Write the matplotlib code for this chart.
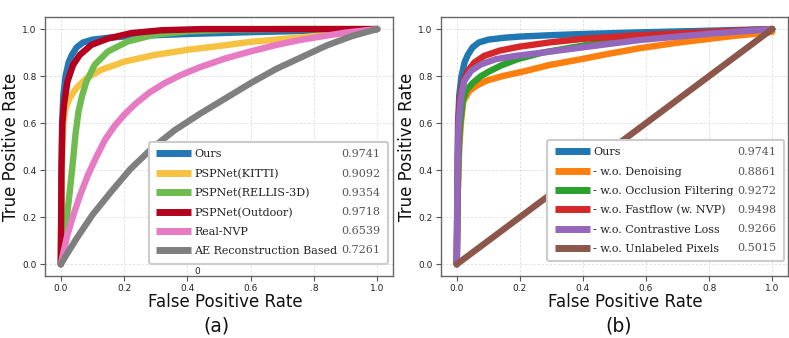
import matplotlib
matplotlib.use('Agg')
import matplotlib.pyplot as plt
from matplotlib.lines import Line2D
from matplotlib.ticker import FixedLocator, FixedFormatter

# ---------------- data: panel (a) ----------------
a_names = ['Ours', 'PSPNet(KITTI)', 'PSPNet(RELLIS-3D)', 'PSPNet(Outdoor)',
           'Real-NVP', 'AE Reconstruction Based']
a_aucs = ['0.9741', '0.9092', '0.9354', '0.9718', '0.6539', '0.7261']
a_colors = ['#2477b6', '#f5c242', '#6fbb50', '#b3001e', '#e67bc3', '#7f7f7f']

ours_fpr = [0, 0.002, 0.004, 0.008, 0.015, 0.025, 0.035, 0.05, 0.07, 0.1, 0.15, 0.2, 0.3, 0.4, 0.58, 0.8, 1.0]
ours_tpr = [0, 0.3, 0.6, 0.72, 0.8, 0.86, 0.89, 0.922, 0.943, 0.955, 0.963, 0.968, 0.974, 0.979, 0.986, 0.993, 1.0]

kitti_fpr = [0, 0.002, 0.005, 0.008, 0.015, 0.028, 0.049, 0.081, 0.128, 0.202, 0.297, 0.402, 0.507, 0.596, 0.754, 0.912, 1.0]
kitti_tpr = [0, 0.3, 0.5, 0.6, 0.664, 0.706, 0.749, 0.791, 0.827, 0.862, 0.89, 0.912, 0.929, 0.945, 0.964, 0.985, 1.0]

rellis_fpr = [0, 0.012, 0.025, 0.037, 0.047, 0.056, 0.068, 0.081, 0.107, 0.149, 0.213, 0.297, 0.402, 0.53, 0.7, 1.0]
rellis_tpr = [0, 0.12, 0.27, 0.42, 0.56, 0.65, 0.72, 0.777, 0.848, 0.905, 0.948, 0.976, 0.99, 0.997, 1.0, 1.0]

outdoor_fpr = [0, 0.002, 0.005, 0.01, 0.021, 0.039, 0.06, 0.097, 0.15, 0.223, 0.32, 0.45, 0.6, 1.0]
outdoor_tpr = [0, 0.4, 0.6, 0.68, 0.777, 0.848, 0.89, 0.933, 0.96, 0.983, 0.995, 1.0, 1.0, 1.0]

nvp_fpr = [0, 0.01, 0.02, 0.04, 0.06, 0.086, 0.11, 0.14, 0.171, 0.2, 0.234, 0.28, 0.328, 0.38, 0.44,
           0.52, 0.6, 0.68, 0.75, 0.83, 0.9, 1.0]
nvp_tpr = [0, 0.06, 0.12, 0.21, 0.29, 0.38, 0.45, 0.53, 0.59, 0.635, 0.68, 0.73, 0.77, 0.805, 0.838,
           0.875, 0.905, 0.932, 0.952, 0.97, 0.985, 1.0]

ae_fpr = [0, 0.02, 0.05, 0.1, 0.16, 0.22, 0.29, 0.36, 0.44, 0.52, 0.6, 0.68, 0.76, 0.84, 0.92, 1.0]
ae_tpr = [0, 0.045, 0.11, 0.21, 0.31, 0.405, 0.495, 0.57, 0.64, 0.705, 0.77, 0.83, 0.88, 0.93, 0.97, 1.0]

a_fprs = [ours_fpr, kitti_fpr, rellis_fpr, outdoor_fpr, nvp_fpr, ae_fpr]
a_tprs = [ours_tpr, kitti_tpr, rellis_tpr, outdoor_tpr, nvp_tpr, ae_tpr]

# ---------------- data: panel (b) ----------------
b_names = ['Ours', '- w.o. Denoising', '- w.o. Occlusion Filtering',
           '- w.o. Fastflow (w. NVP)', '- w.o. Contrastive Loss', '- w.o. Unlabeled Pixels']
b_aucs = ['0.9741', '0.8861', '0.9272', '0.9498', '0.9266', '0.5015']
b_colors = ['#1f77b4', '#ff7f0e', '#2ca02c', '#d62728', '#9467bd', '#8c564b']

den_fpr = [0, 0.003, 0.008, 0.013, 0.021, 0.04, 0.061, 0.093, 0.145, 0.219, 0.293, 0.387, 0.482, 0.577, 0.7, 0.86, 1.0]
den_tpr = [0, 0.3, 0.5, 0.6, 0.694, 0.737, 0.758, 0.78, 0.8, 0.822, 0.847, 0.87, 0.895, 0.918, 0.942, 0.968, 0.988]

occ_fpr = [0, 0.003, 0.007, 0.011, 0.019, 0.029, 0.05, 0.077, 0.103, 0.14, 0.193, 0.272, 0.366, 0.472, 0.577, 0.75, 1.0]
occ_tpr = [0, 0.3, 0.5, 0.6, 0.694, 0.737, 0.77, 0.8, 0.82, 0.845, 0.872, 0.9, 0.922, 0.945, 0.962, 0.982, 1.0]

ff_fpr = [0, 0.002, 0.005, 0.01, 0.021, 0.035, 0.056, 0.087, 0.135, 0.198, 0.293, 0.398, 0.577, 0.8, 1.0]
ff_tpr = [0, 0.35, 0.6, 0.708, 0.78, 0.822, 0.858, 0.886, 0.908, 0.925, 0.943, 0.958, 0.974, 0.988, 1.0]

con_fpr = [0, 0.002, 0.006, 0.013, 0.024, 0.045, 0.077, 0.124, 0.187, 0.272, 0.398, 0.577, 0.8, 1.0]
con_tpr = [0, 0.35, 0.6, 0.708, 0.78, 0.822, 0.85, 0.872, 0.886, 0.9, 0.922, 0.953, 0.98, 1.0]

unl_fpr = [0, 1.0]
unl_tpr = [0, 1.0]

b_fprs = [ours_fpr, den_fpr, occ_fpr, ff_fpr, con_fpr, unl_fpr]
b_tprs = [ours_tpr, den_tpr, occ_tpr, ff_tpr, con_tpr, unl_tpr]

ticks = [0.0, 0.2, 0.4, 0.6, 0.8, 1.0]
a_xticklabels = ['0.0', '0.2', '0.4', '0.6', '.8', '1.0']
b_xticklabels = ['0.0', '0.2', '0.4', '0.6', '0.8', '1.0']
yticklabels = ['0.0', '0.2', '0.4', '0.6', '0.8', '1.0']

# ---------------- figure ----------------
fig = plt.figure(figsize=(7.89, 3.38), dpi=100)
ax_a = fig.add_axes([45 / 789, 62 / 338, 348 / 789, 258.7 / 338])
ax_b = fig.add_axes([441 / 789, 62 / 338, 347 / 789, 258.7 / 338])

LW = 4.6
FS_LEG = 8


def style(ax, xlabels):
    ax.set_xlim(-0.05, 1.05)
    ax.set_ylim(-0.05, 1.05)
    ax.xaxis.set_major_locator(FixedLocator(ticks))
    ax.xaxis.set_major_formatter(FixedFormatter(xlabels))
    ax.yaxis.set_major_locator(FixedLocator(ticks))
    ax.yaxis.set_major_formatter(FixedFormatter(yticklabels))
    ax.tick_params(axis='both', labelsize=6.5, length=3.5, width=0.8,
                   color='#555555', labelcolor='#222222', pad=2.5)
    for s in ax.spines.values():
        s.set_color('#666666')
        s.set_linewidth(1.0)
    ax.grid(True, color='#dddddd', linestyle=(0, (3, 2)), linewidth=0.6)
    ax.set_axisbelow(True)
    ax.set_ylabel('True Positive Rate', fontsize=12, color='#111111')
    ax.yaxis.set_label_coords(-0.072, 0.5)


def legend(ax, names, aucs, colors, anchor):
    handles = [Line2D([], [], color=c, lw=5, solid_capstyle='butt') for c in colors]
    blanks = [Line2D([], [], color='none', lw=0) for _ in names]
    fs_px = FS_LEG * 100 / 72
    hl = 35 / fs_px
    htp = 3.3 / fs_px
    colsp = (4 - 35 - 3.3) / fs_px
    leg = ax.legend(handles + blanks, list(names) + list(aucs), ncol=2,
                    loc='lower right', bbox_to_anchor=anchor, borderaxespad=0,
                    prop={'family': 'DejaVu Serif', 'size': FS_LEG},
                    handlelength=hl, handletextpad=htp, columnspacing=colsp,
                    labelspacing=0.83, borderpad=0.65, fancybox=True, framealpha=1.0,
                    edgecolor='#cccccc')
    leg.get_frame().set_linewidth(1.5)
    texts = leg.get_texts()
    for t in texts[:len(names)]:
        t.set_color('#222222')
    for t in texts[len(names):]:
        t.set_color('#555555')
    leg.set_zorder(10)
    return leg


# panel (a)
for fx, ty, c in zip(a_fprs, a_tprs, a_colors):
    ax_a.plot(fx, ty, color=c, lw=LW, solid_capstyle='round', solid_joinstyle='round')
style(ax_a, a_xticklabels)
legend(ax_a, a_names, a_aucs, a_colors, (0.9856, 0.048))
ax_a.text(0.43, -0.031, '0', fontsize=6.5, color='#222222', ha='center', va='center', zorder=12)
ax_a.set_xlabel('False Positive Rate', fontsize=12, color='#111111')
ax_a.xaxis.set_label_coords(0.517, -0.064)
fig.text(216 / 789, 0.036, '(a)', fontsize=13.5, ha='center', va='center', color='#111111')

# panel (b)
for fx, ty, c in zip(b_fprs, b_tprs, b_colors):
    ax_b.plot(fx, ty, color=c, lw=LW, solid_capstyle='round', solid_joinstyle='round')
style(ax_b, b_xticklabels)
legend(ax_b, b_names, b_aucs, b_colors, (0.988, 0.058))
ax_b.set_xlabel('False Positive Rate', fontsize=12, color='#111111')
ax_b.xaxis.set_label_coords(0.53, -0.064)
fig.text(619 / 789, 0.036, '(b)', fontsize=13.5, ha='center', va='center', color='#111111')

fig.savefig('out.png', dpi=100)
